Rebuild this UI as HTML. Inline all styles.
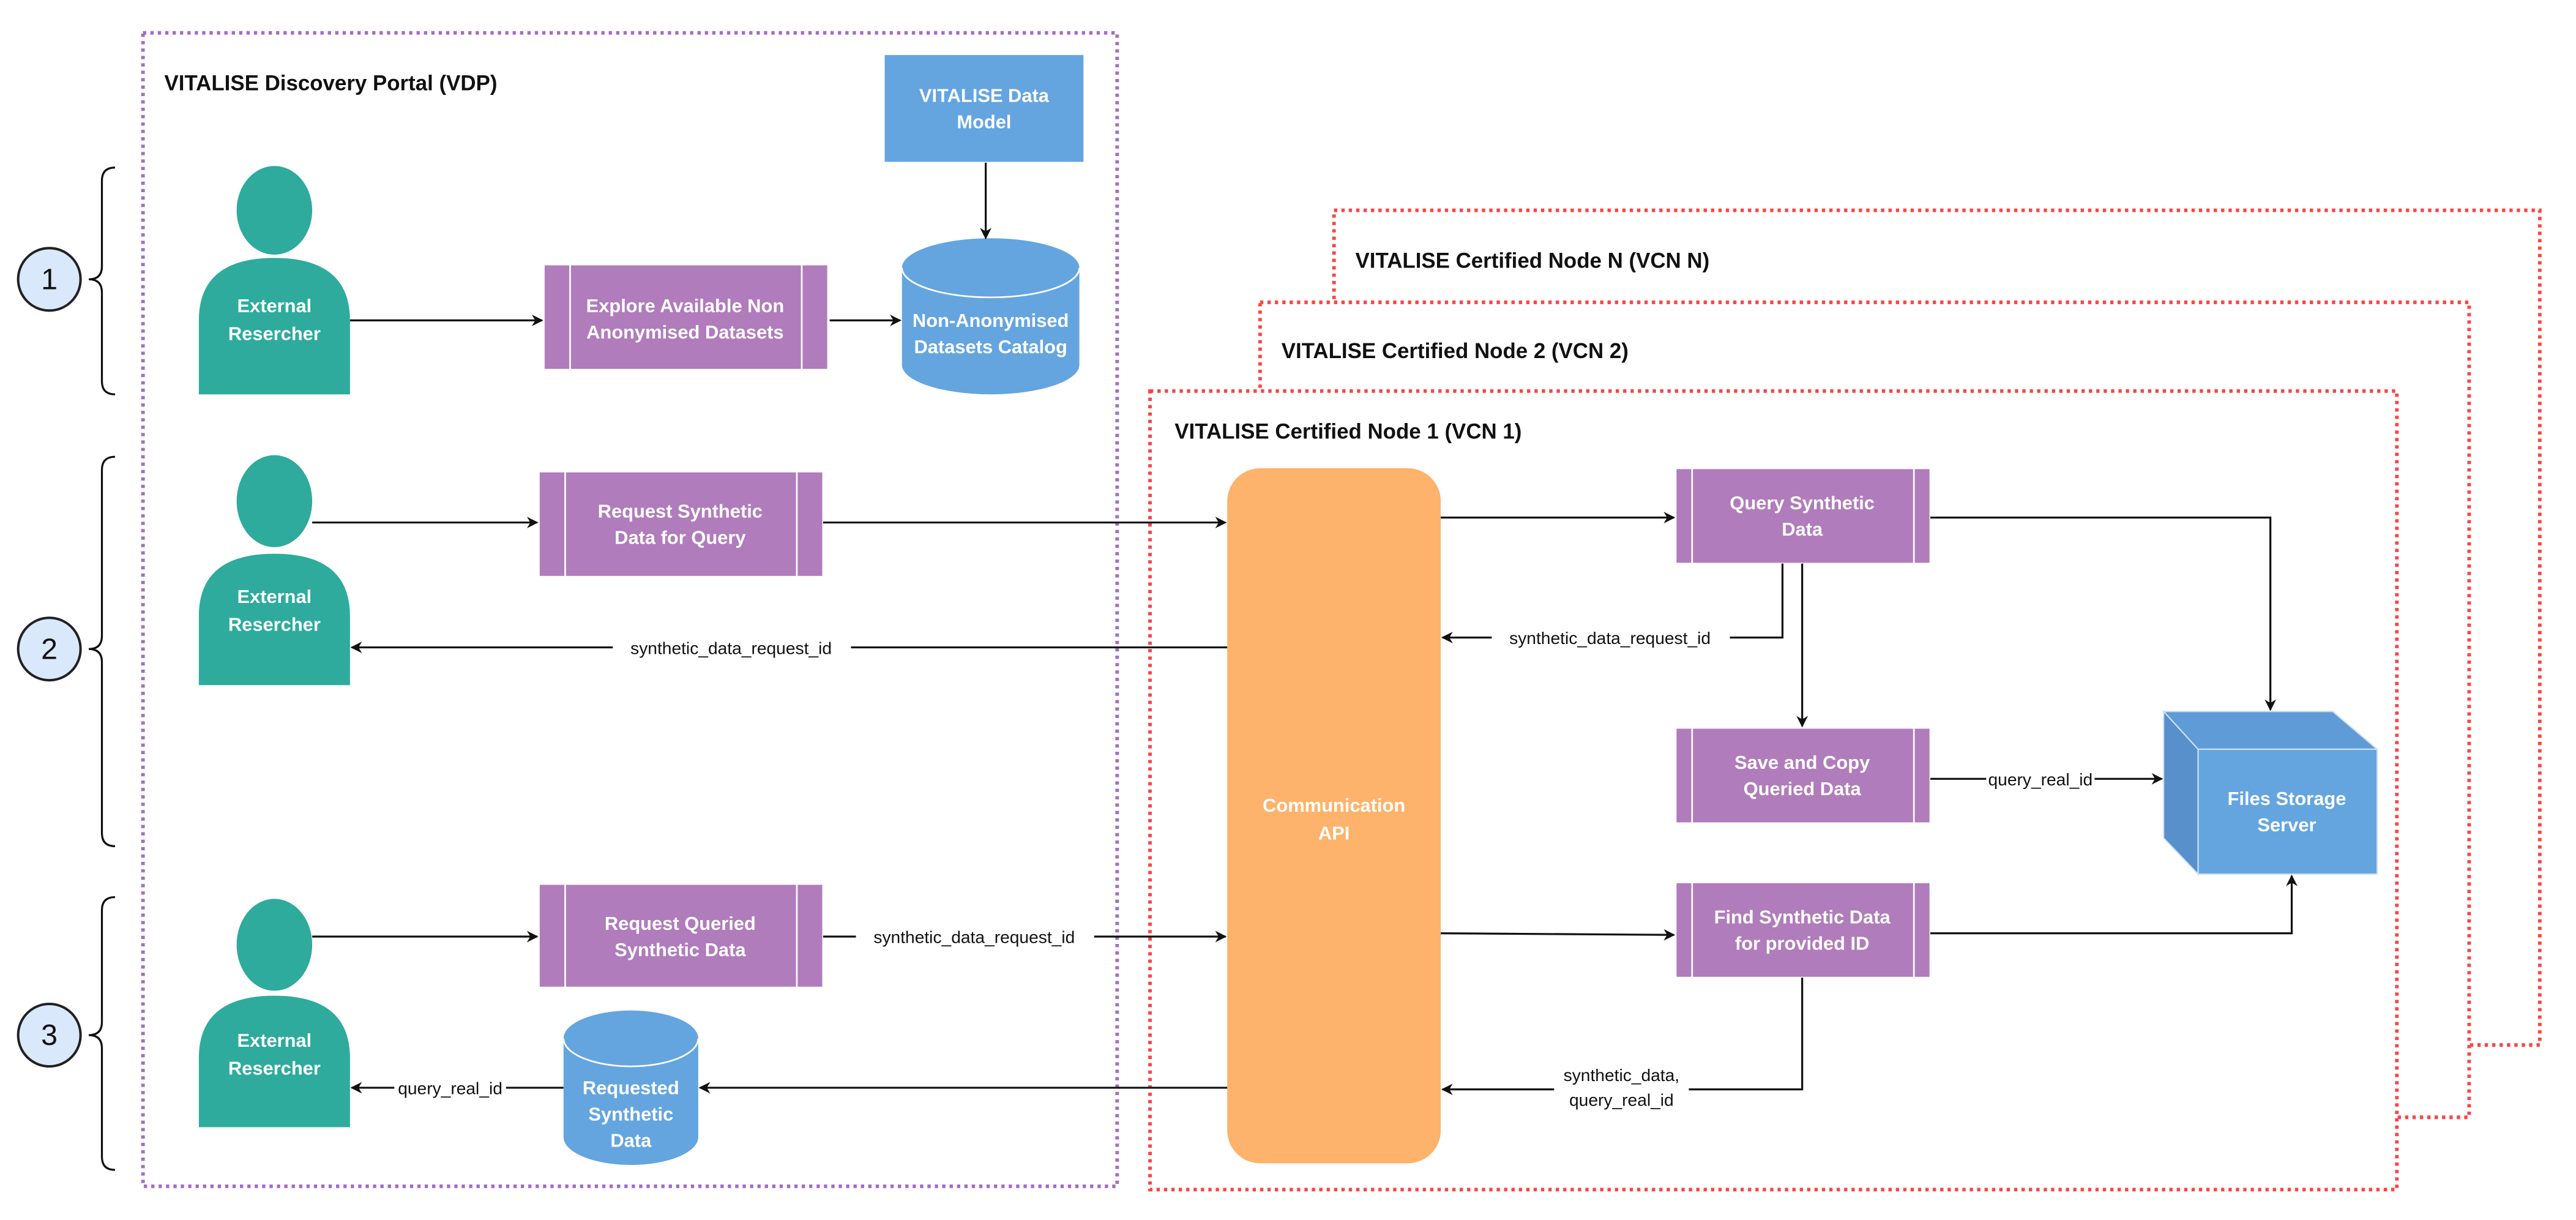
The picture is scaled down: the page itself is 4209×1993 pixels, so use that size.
<!DOCTYPE html>
<html><head><meta charset="utf-8"><style>
html,body{margin:0;padding:0;background:#fff;}
svg{display:block;}
.bx{font-family:"Liberation Sans",sans-serif;font-weight:bold;font-size:11.5px;fill:#fff;text-anchor:middle;}
.tt{font-family:"Liberation Sans",sans-serif;font-weight:bold;font-size:13px;fill:#111;}
.lb{font-family:"Liberation Sans",sans-serif;font-size:10.5px;fill:#111;text-anchor:middle;}
.ln{stroke:#111;stroke-width:1.2;fill:none;}
</style></head><body>
<svg width="4209" height="1993" viewBox="0 0 1568 742.5" xmlns="http://www.w3.org/2000/svg">
<defs>
<marker id="a" viewBox="0 0 10 10" refX="9" refY="5" markerWidth="7" markerHeight="7" orient="auto" markerUnits="userSpaceOnUse">
<path d="M0,0 L10,5 L0,10 L3,5 Z" fill="#111"/></marker>
</defs>
<rect width="1568" height="742.5" fill="#fff"/>

<!-- VCN boxes -->
<rect x="812" y="128" width="734" height="508" fill="#fff" stroke="#f44" stroke-width="2.2" stroke-dasharray="2,2.5"/>
<text class="tt" x="825" y="163">VITALISE Certified Node N (VCN N)</text>
<rect x="767" y="184" width="736" height="496" fill="#fff" stroke="#f44" stroke-width="2.2" stroke-dasharray="2,2.5"/>
<text class="tt" x="780" y="218">VITALISE Certified Node 2 (VCN 2)</text>
<rect x="700" y="238" width="759" height="486" fill="#fff" stroke="#f44" stroke-width="2.2" stroke-dasharray="2,2.5"/>
<text class="tt" x="715" y="267">VITALISE Certified Node 1 (VCN 1)</text>

<!-- VDP -->
<rect x="87" y="20" width="593" height="702" fill="none" stroke="#a56dc4" stroke-width="2.2" stroke-dasharray="2,2.5"/>
<text class="tt" x="100" y="55">VITALISE Discovery Portal (VDP)</text>

<!-- circles and braces -->
<g font-family="Liberation Sans,sans-serif" font-size="18" text-anchor="middle" fill="#111">
<ellipse cx="30" cy="170" rx="19" ry="19" fill="#dae8fc" stroke="#222" stroke-width="1.5"/><text x="30" y="176">1</text>
<ellipse cx="30" cy="395" rx="19" ry="19" fill="#dae8fc" stroke="#222" stroke-width="1.5"/><text x="30" y="401">2</text>
<ellipse cx="30" cy="630" rx="19" ry="19" fill="#dae8fc" stroke="#222" stroke-width="1.5"/><text x="30" y="636">3</text>
</g>
<g class="ln">
<path d="M70,102 Q62,102 62,110 L62,162 Q62,170 54,170 Q62,170 62,178 L62,232 Q62,240 70,240"/>
<path d="M70,278 Q62,278 62,286 L62,387 Q62,395 54,395 Q62,395 62,403 L62,507 Q62,515 70,515"/>
<path d="M70,546 Q62,546 62,554 L62,622 Q62,630 54,630 Q62,630 62,638 L62,704 Q62,712 70,712"/>
</g>

<!-- persons -->
<g fill="#2eab9c">
<ellipse cx="167" cy="128" rx="23" ry="27"/>
<path d="M121,240 L121,195 Q121,157 167,157 Q213,157 213,195 L213,240 Z"/>
<ellipse cx="167" cy="305" rx="23" ry="28"/>
<path d="M121,417 L121,375 Q121,337 167,337 Q213,337 213,375 L213,417 Z"/>
<ellipse cx="167" cy="575" rx="23" ry="28"/>
<path d="M121,686 L121,644 Q121,606 167,606 Q213,606 213,644 L213,686 Z"/>
</g>
<text class="bx" x="167" y="190">External</text><text class="bx" x="167" y="207">Resercher</text>
<text class="bx" x="167" y="367">External</text><text class="bx" x="167" y="384">Resercher</text>
<text class="bx" x="167" y="637">External</text><text class="bx" x="167" y="654">Resercher</text>

<!-- process boxes -->
<g fill="#b07cbb" stroke="#fff" stroke-width="1">
<rect x="331" y="161" width="173" height="64"/><line x1="347" y1="161" x2="347" y2="225"/><line x1="488" y1="161" x2="488" y2="225"/>
<rect x="328" y="287" width="173" height="64"/><line x1="344" y1="287" x2="344" y2="351"/><line x1="485" y1="287" x2="485" y2="351"/>
<rect x="328" y="538" width="173" height="63"/><line x1="344" y1="538" x2="344" y2="601"/><line x1="485" y1="538" x2="485" y2="601"/>
<rect x="1020" y="285" width="155" height="58"/><line x1="1030" y1="285" x2="1030" y2="343"/><line x1="1165" y1="285" x2="1165" y2="343"/>
<rect x="1020" y="443" width="155" height="58"/><line x1="1030" y1="443" x2="1030" y2="501"/><line x1="1165" y1="443" x2="1165" y2="501"/>
<rect x="1020" y="537" width="155" height="58"/><line x1="1030" y1="537" x2="1030" y2="595"/><line x1="1165" y1="537" x2="1165" y2="595"/>
</g>
<text class="bx" x="417" y="190">Explore Available Non</text><text class="bx" x="417" y="206">Anonymised Datasets</text>
<text class="bx" x="414" y="315">Request Synthetic</text><text class="bx" x="414" y="331">Data for Query</text>
<text class="bx" x="414" y="566">Request Queried</text><text class="bx" x="414" y="582">Synthetic Data</text>
<text class="bx" x="1097" y="310">Query Synthetic</text><text class="bx" x="1097" y="326">Data</text>
<text class="bx" x="1097" y="468">Save and Copy</text><text class="bx" x="1097" y="484">Queried Data</text>
<text class="bx" x="1097" y="562">Find Synthetic Data</text><text class="bx" x="1097" y="578">for provided ID</text>

<!-- data model -->
<rect x="538" y="33" width="122" height="66" fill="#64a5e0" stroke="#fff"/>
<text class="bx" x="599" y="62">VITALISE Data</text><text class="bx" x="599" y="78">Model</text>
<!-- cylinders -->
<path d="M549,163 A54,18 0 0 1 657,163 L657,222 A54,18 0 0 1 549,222 Z" fill="#64a5e0"/>
<path d="M549,163 A54,18 0 0 0 657,163" fill="none" stroke="#fff" stroke-width="1"/>
<text class="bx" x="603" y="199">Non-Anonymised</text><text class="bx" x="603" y="215">Datasets Catalog</text>
<path d="M343,632 A41,17 0 0 1 425,632 L425,692 A41,17 0 0 1 343,692 Z" fill="#64a5e0"/>
<path d="M343,632 A41,17 0 0 0 425,632" fill="none" stroke="#fff" stroke-width="1"/>
<text class="bx" x="384" y="666">Requested</text><text class="bx" x="384" y="682">Synthetic</text><text class="bx" x="384" y="698">Data</text>

<!-- comm api -->
<rect x="747" y="285" width="130" height="423" rx="20" fill="#fdb36b"/>
<text class="bx" x="812" y="494">Communication</text><text class="bx" x="812" y="511">API</text>

<!-- cube -->
<path d="M1317,433 L1420,433 L1447,456 L1338,456 Z" fill="#5f9bd6" stroke="#cfe0f5" stroke-width="0.8"/>
<path d="M1317,433 L1338,456 L1338,532 L1317,510 Z" fill="#5890cc" stroke="#cfe0f5" stroke-width="0.8"/>
<rect x="1338" y="456" width="109" height="76" fill="#64a5e0" stroke="#cfe0f5" stroke-width="0.8"/>
<text class="bx" x="1392" y="490">Files Storage</text><text class="bx" x="1392" y="506">Server</text>

<!-- connectors -->
<g class="ln" marker-end="url(#a)">
<line x1="213" y1="195" x2="330" y2="195"/>
<line x1="505" y1="195" x2="548" y2="195"/>
<line x1="600" y1="99" x2="600" y2="145"/>
<line x1="190" y1="318" x2="327" y2="318"/>
<line x1="501" y1="318" x2="746" y2="318"/>
<line x1="747" y1="394" x2="214" y2="394"/>
<line x1="190" y1="570" x2="327" y2="570"/>
<line x1="501" y1="570" x2="746" y2="570"/>
<line x1="747" y1="662" x2="426" y2="662"/>
<line x1="343" y1="662" x2="214" y2="662"/>
<line x1="877" y1="315" x2="1019" y2="315"/>
<polyline points="1175,315 1382,315 1382,432"/>
<polyline points="1085,343 1085,388 878,388"/>
<line x1="1097" y1="343" x2="1097" y2="442"/>
<line x1="1175" y1="474" x2="1316" y2="474"/>
<line x1="877" y1="568" x2="1019" y2="569"/>
<polyline points="1175,568 1395,568 1395,533"/>
<polyline points="1097,595 1097,663 878,663"/>
</g>
<!-- labels -->
<g>
<rect x="373" y="388" width="145" height="12" fill="#fff"/><text class="lb" x="445" y="398">synthetic_data_request_id</text>
<rect x="521" y="564" width="145" height="12" fill="#fff"/><text class="lb" x="593" y="574">synthetic_data_request_id</text>
<rect x="240" y="656" width="68" height="12" fill="#fff"/><text class="lb" x="274" y="666">query_real_id</text>
<rect x="908" y="382" width="145" height="12" fill="#fff"/><text class="lb" x="980" y="392">synthetic_data_request_id</text>
<rect x="1209" y="468" width="66" height="12" fill="#fff"/><text class="lb" x="1242" y="478">query_real_id</text>
<rect x="946" y="647" width="82" height="28" fill="#fff"/><text class="lb" x="987" y="658">synthetic_data,</text><text class="lb" x="987" y="673">query_real_id</text>
</g>
</svg>
</body></html>
